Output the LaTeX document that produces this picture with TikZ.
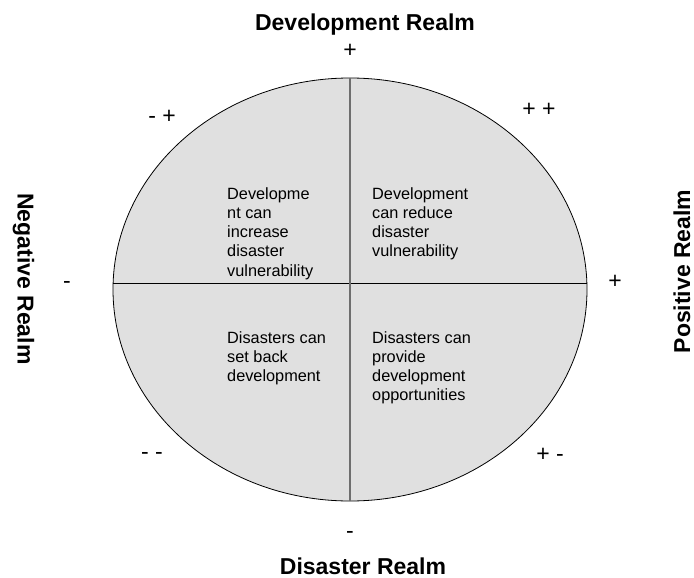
\documentclass[tikz,border=0pt]{standalone}
\usepackage{fontspec}
\setmainfont{Liberation Sans}
\definecolor{quadfill}{RGB}{224,224,224}
\definecolor{vline}{RGB}{110,110,110}
\begin{document}
\begin{tikzpicture}[x=1pt,y=-1pt,
  realm/.style={font=\bfseries\fontsize{23}{26}\selectfont, inner sep=0pt, anchor=base},
  sign/.style={font=\fontsize{23}{26}\selectfont, inner sep=0pt, anchor=base},
  quad/.style={font=\fontsize{16.3}{19.3}\selectfont, align=left, anchor=north west, inner sep=0pt, text depth=0pt}]
\useasboundingbox (0,0) rectangle (694,578);
\fill[white] (0,0) rectangle (694,578);
\draw[fill=quadfill, line width=0.8pt] (350,289.5) ellipse [x radius=237, y radius=211.5];
\coordinate (L) at (113,283);
\coordinate (R) at (587,283);
\coordinate (T) at (350,78);
\coordinate (B) at (350,501);
\draw[line width=0.8pt] (L) -- (R);
\draw[line width=1.1pt, vline] (T) -- (B);
\node[realm] (dev) at (365,31) {Development Realm};
\node[realm] (dis) at (363,574) {Disaster Realm};
\node[realm, rotate=-90] (neg) at (17.5,279) {Negative Realm};
\node[realm, rotate=90] (pos) at (690,271.5) {Positive Realm};
\node[sign] (st) at (350,58) {+};
\node[sign] (sb) at (350,538) {-};
\node[sign] (sl) at (67,288) {-};
\node[sign] (sr) at (615,288) {+};
\node[sign] (mp) at (162,123) {- +};
\node[sign] (pp) at (539,117) {+ +};
\node[sign] (mm) at (152,459) {- -};
\node[sign] (pm) at (550,461) {+ -};
\node[quad] (q1) at (227,187) {Developme\\nt can\\increase\\disaster\\vulnerability};
\node[quad] (q2) at (372,187) {Development\\can reduce\\disaster\\vulnerability};
\node[quad] (q3) at (227,331) {Disasters can\\set back\\development};
\node[quad] (q4) at (372,331) {Disasters can\\provide\\development\\opportunities};
\end{tikzpicture}
\end{document}
